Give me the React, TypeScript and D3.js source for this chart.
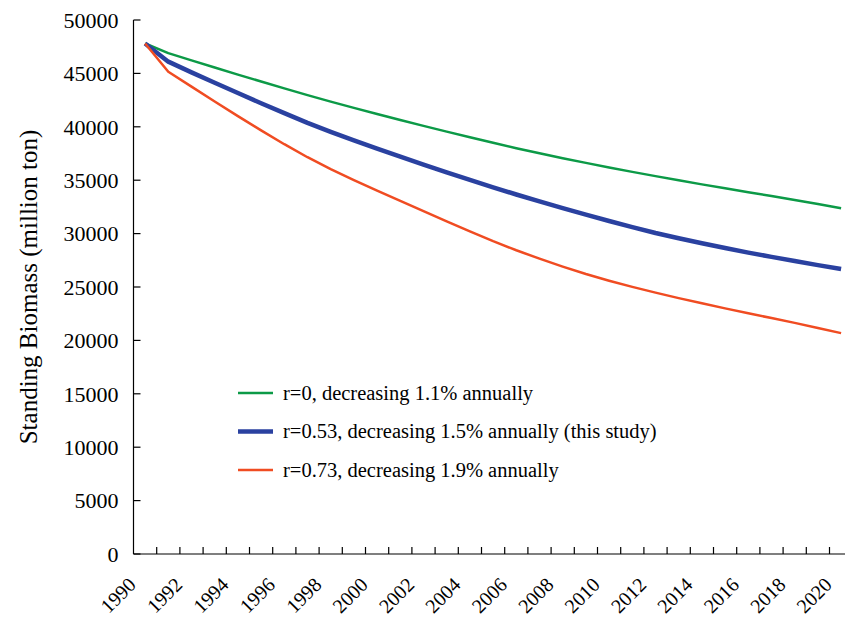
import { useEffect, useRef } from "react";
import * as d3 from "d3";

const years = d3.range(1990, 2021);

// r=0 scenario
const r0 = [
  47800, 46900, 46220, 45550, 44890, 44240, 43600, 42970, 42360, 41770,
  41200, 40640, 40090, 39550, 39020, 38500, 38000, 37520, 37060, 36620,
  36190, 35780, 35380, 34990, 34610, 34240, 33880, 33520, 33150, 32770, 32370,
];
// r=0.53 (this study)
const r053 = [
  47800, 46100, 45100, 44120, 43160, 42210, 41280, 40370, 39520, 38720,
  37950, 37200, 36460, 35730, 35020, 34330, 33660, 33010, 32380, 31770,
  31180, 30610, 30060, 29570, 29100, 28650, 28220, 27820, 27430, 27050, 26680,
];
// r=0.73
const r073 = [
  47800, 45160, 43760, 42370, 41000, 39660, 38370, 37150, 36040, 35010,
  34030, 33060, 32100, 31150, 30210, 29290, 28440, 27650, 26910, 26220,
  25590, 25010, 24470, 23960, 23470, 23000, 22540, 22090, 21640, 21160, 20680,
];

const seriesNames = [
  "r=0, decreasing 1.1% annually",
  "r=0.53, decreasing 1.5% annually (this study)",
  "r=0.73, decreasing 1.9% annually",
];
const seriesColors = ["#0c9a47", "#2a41a0", "#f04c22"];
const seriesWidths = [2.5, 4.5, 2.5];
const yTicks = d3.range(0, 50001, 5000);

export default function App() {
  const ref = useRef<SVGSVGElement>(null);
  const width = 845, height = 617;
  const left = 133.5, top = 20, bottom = 554;
  const step = 23.2;

  useEffect(() => {
    if (!ref.current) return;
    const svg = d3.select(ref.current);
    svg.selectAll("*").remove();
    const font = "Liberation Serif";

    const x = d3.scaleBand<number>()
      .domain(years)
      .range([left, left + years.length * step])
      .paddingInner(0).paddingOuter(0);
    const cx = (yr: number) => (x(yr) as number) + x.bandwidth() / 2;
    const y = d3.scaleLinear().domain([0, 50000]).range([bottom, top]);

    // axes, ticks pointing inwards
    const ax = svg.append("g").attr("stroke", "#000").attr("stroke-width", 1.2);
    ax.append("line").attr("x1", left).attr("x2", left).attr("y1", top).attr("y2", bottom);
    ax.append("line").attr("x1", left).attr("x2", left + years.length * step).attr("y1", bottom).attr("y2", bottom);
    ax.selectAll(".yt").data(yTicks).enter().append("line")
      .attr("x1", left).attr("x2", left + 7)
      .attr("y1", d => y(d)).attr("y2", d => y(d));
    ax.selectAll(".xt").data(years).enter().append("line")
      .attr("x1", d => (x(d) as number) + step).attr("x2", d => (x(d) as number) + step)
      .attr("y1", bottom).attr("y2", bottom - 7);

    svg.append("g").selectAll("text").data(yTicks).enter().append("text")
      .attr("x", left - 15).attr("y", d => y(d)).attr("dy", "0.35em")
      .attr("text-anchor", "end").style("font-family", font).style("font-size", "22px")
      .text(d => d);

    svg.append("g").selectAll("text").data(years.filter(d => d % 2 === 0)).enter().append("text")
      .attr("transform", d => `translate(${cx(d) - 8},${bottom + 32}) rotate(-45)`)
      .attr("text-anchor", "end").style("font-family", font).style("font-size", "20px")
      .text(d => d);

    svg.append("text")
      .attr("transform", `translate(37,${(top + bottom) / 2}) rotate(-90)`)
      .attr("text-anchor", "middle").style("font-family", font).style("font-size", "25px")
      .text("Standing Biomass (million ton)");

    const line = d3.line<number>().x((d, i) => cx(years[i])).y(d => y(d));
    [r0, r053, r073].forEach((s, k) => {
      svg.append("path").datum(s).attr("d", line).attr("fill", "none")
        .attr("stroke", seriesColors[k]).attr("stroke-width", seriesWidths[k])
        .attr("stroke-linejoin", "round");
    });

    // legend
    const lg = svg.append("g");
    seriesNames.forEach((name, k) => {
      const ly = 393 + k * 38.5;
      lg.append("line").attr("x1", 238).attr("x2", 273).attr("y1", ly).attr("y2", ly)
        .attr("stroke", seriesColors[k]).attr("stroke-width", seriesWidths[k]);
      lg.append("text").attr("x", 283).attr("y", ly).attr("dy", "0.33em")
        .style("font-family", font).style("font-size", "20.5px").text(name);
    });
  }, []);

  return (
    <svg ref={ref} width={width} height={height}
      style={{ position: "absolute", left: 0, top: 0, background: "#fff" }} />
  );
}
